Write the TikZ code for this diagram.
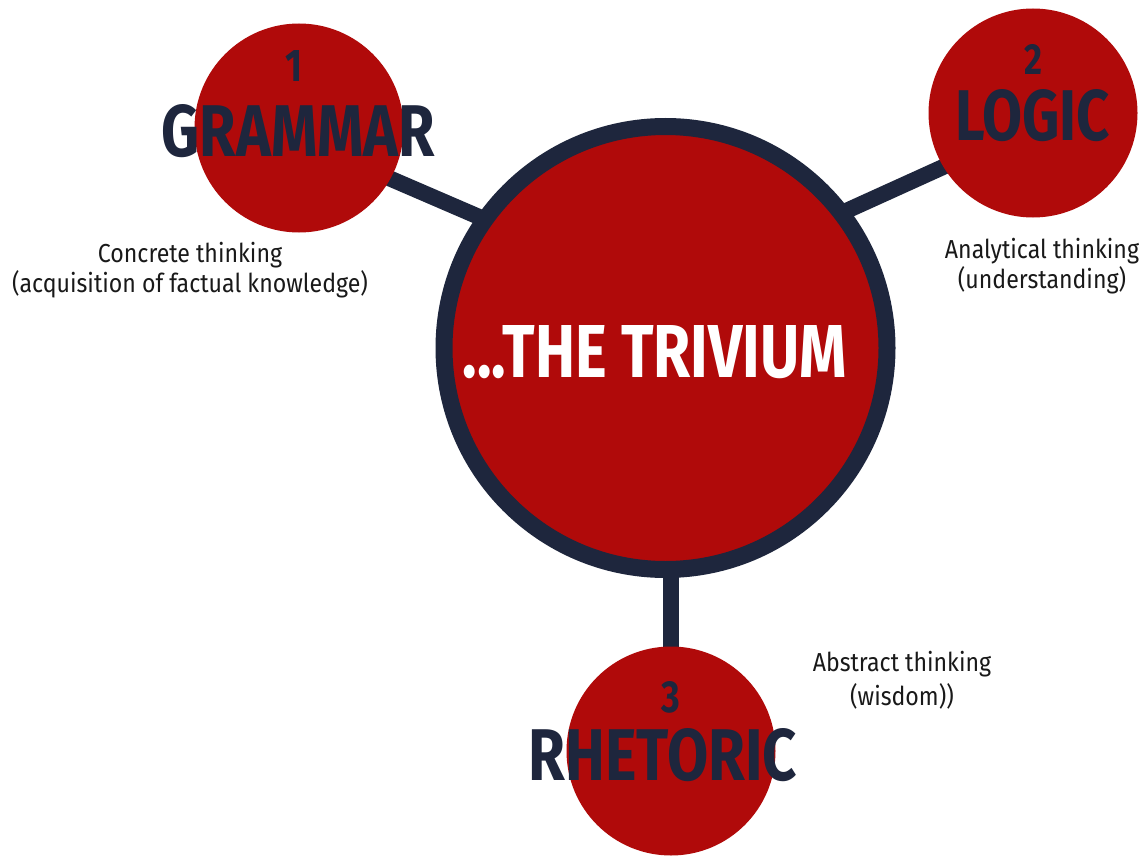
\documentclass[tikz,border=0pt]{standalone}
\usepackage{fontspec}
\setmainfont{Fira Sans}
\usetikzlibrary{backgrounds}
\definecolor{trred}{HTML}{B00A0A}
\definecolor{trnavy}{HTML}{1E263D}
\newcommand{\nline}[1]{\scalebox{0.89}[1]{#1}}
\newcommand{\bigword}[3]{\resizebox{#1}{#2}{\bfseries #3}}
\newcommand{\numword}[2]{\scalebox{0.8}[1]{\resizebox{!}{#1}{\bfseries #2}}}
\begin{document}
\begin{tikzpicture}[x=1pt,y=-1pt,
  sat/.style={circle,fill=trred,draw=none,minimum size=209pt,inner sep=0pt},
  hub/.style={circle,fill=trred,draw=trnavy,line width=17pt,minimum size=443pt,inner sep=0pt},
  link/.style={draw=trnavy,line width=16pt,shorten <=-15pt,shorten >=-15pt},
  title/.style={text=trnavy,inner sep=0pt,anchor=base},
  note/.style={text=black!90,inner sep=0pt,anchor=base,align=center,font=\fontsize{26}{30}\selectfont}]
\useasboundingbox (0,0) rectangle (1140,856);
% circles
\node[hub] (main) at (665.5,348) {};
\node[sat] (grammar) at (299,128) {};
\node[sat] (logic) at (1033,113) {};
\node[sat] (rhetoric) at (671,751) {};
% connectors
\begin{pgfonlayer}{background}
\fill[white] (0,0) rectangle (1140,856);
\draw[link] (grammar.-29) -- (main.145);
\draw[link] (logic.211) -- (main.37);
\draw[link] (rhetoric.north) -- (rhetoric.north |- main.south);
\end{pgfonlayer}
% titles
\node[title,text=white] (mainT) at (655,377) {\bigword{384pt}{52pt}{...THE TRIVIUM}};
\node[title] (grammarN) at (294,82) {\numword{31pt}{1}};
\node[title] (grammarT) at (298.5,157) {\bigword{273pt}{52pt}{GRAMMAR}};
\node[title] (logicN) at (1033,75) {\numword{30pt}{2}};
\node[title] (logicT) at (1032.5,140) {\bigword{155pt}{51pt}{LOGIC}};
\node[title] (rhetoricN) at (671,712) {\numword{31pt}{3}};
\node[title] (rhetoricT) at (663,780) {\bigword{268pt}{52pt}{RHETORIC}};
% notes (anchor base = baseline of last line)
\node[note] (grammarD) at (190,292) {\nline{Concrete thinking}\\\nline{(acquisition of factual knowledge)}};
\node[note] (logicD) at (1042,288) {\nline{Analytical thinking}\\\nline{(understanding)}};
\node[note,font=\fontsize{26}{34}\selectfont] (rhetoricD) at (902,705) {\nline{Abstract thinking}\\\nline{(wisdom))}};
\end{tikzpicture}
\end{document}
